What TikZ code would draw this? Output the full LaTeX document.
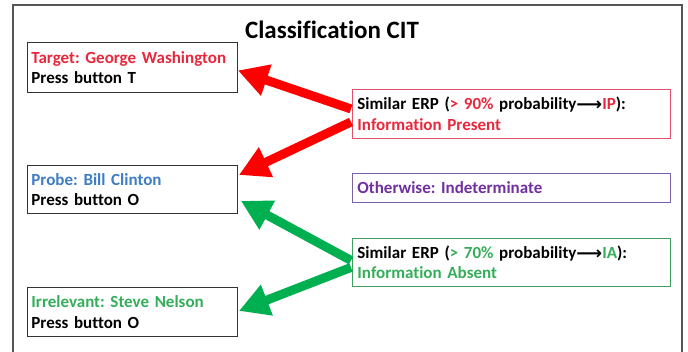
\documentclass[tikz,border=0pt]{standalone}
\usepackage{fontspec}
\setmainfont[Ligatures=NoCommon]{Carlito}
\newfontfamily\symfont{DejaVu Sans}
\usetikzlibrary{arrows.meta,calc}
\frenchspacing
\definecolor{txtred}{HTML}{E8283C}
\definecolor{txtblue}{HTML}{3F7DC4}
\definecolor{txtgreen}{HTML}{34AE5A}
\definecolor{txtpurple}{HTML}{7030A0}
\definecolor{arrred}{HTML}{FF0000}
\definecolor{arrgreen}{HTML}{00B050}
\definecolor{framegray}{HTML}{555555}
\definecolor{ipborder}{HTML}{E0506A}
\definecolor{iaborder}{HTML}{3FA060}
\definecolor{otborder}{HTML}{7A62A8}
\newcommand{\longarr}{\raisebox{-1pt}{\symfont\bfseries\fontsize{18}{17}\selectfont ⟶}}
\tikzset{
  lbox/.style={draw=black!80, line width=0.9pt, rectangle, anchor=north west,
    minimum width=210pt, text width=202pt, align=left, inner xsep=3pt, inner ysep=0pt,
    font=\fontsize{17}{20.5}\selectfont\bfseries},
  rbox/.style={rectangle, anchor=north west, line width=0.9pt,
    minimum width=318pt, text width=308pt, align=left, inner xsep=5pt, inner ysep=0pt,
    font=\fontsize{17}{20.5}\selectfont\bfseries},
  bigarrow/.style={line width=9pt, -{Triangle[length=30pt,width=31pt]}}
}
\begin{document}
\begin{tikzpicture}[x=1pt,y=-1pt]
\useasboundingbox (0,0) rectangle (688,352);
\fill[white] (0,0) rectangle (688,352);
\draw[framegray, line width=2pt] (13,352) -- (13,5) -- (682,5) -- (682,352);
\node[font=\fontsize{25}{30}\selectfont\bfseries] (title) at (332,30) {Classification CIT};
\node[lbox, minimum height=50pt] (target) at (27,42) {\textcolor{txtred}{Target: George Washington}\\Press button T};
\node[lbox, minimum height=48pt] (probe) at (27,165) {\textcolor{txtblue}{Probe: Bill Clinton}\\Press button O};
\node[lbox, minimum height=49pt] (irr) at (27,287) {\textcolor{txtgreen}{Irrelevant: Steve Nelson}\\Press button O};
\node[rbox, draw=ipborder, minimum height=49pt] (ip) at (352,89) {Similar ERP (\textcolor{txtred}{> 90\%} probability\longarr\textcolor{txtred}{IP}):\\\textcolor{txtred}{Information Present}};
\node[rbox, draw=otborder, minimum height=29pt] (other) at (352,173) {\textcolor{txtpurple}{Otherwise: Indeterminate}};
\node[rbox, draw=iaborder, minimum height=48pt] (ia) at (352,238) {Similar ERP (\textcolor{txtgreen}{> 70\%} probability\longarr\textcolor{txtgreen}{IA}):\\\textcolor{txtgreen}{Information Absent}};
\draw[bigarrow, arrred] ($(ip.west)+(-1,-5)$) -- ($(target.east)+(0,3)$);
\draw[bigarrow, arrred] ($(ip.west)+(-1,8)$) -- ($(probe.north east)+(1,10)$);
\draw[bigarrow, arrgreen] ($(ia.west)+(-1,-2)$) -- ($(probe.south east)+(3,-13)$);
\draw[bigarrow, arrgreen] ($(ia.west)+(-1,5)$) -- ($(irr.east)+(1,-1)$);
\end{tikzpicture}
\end{document}
